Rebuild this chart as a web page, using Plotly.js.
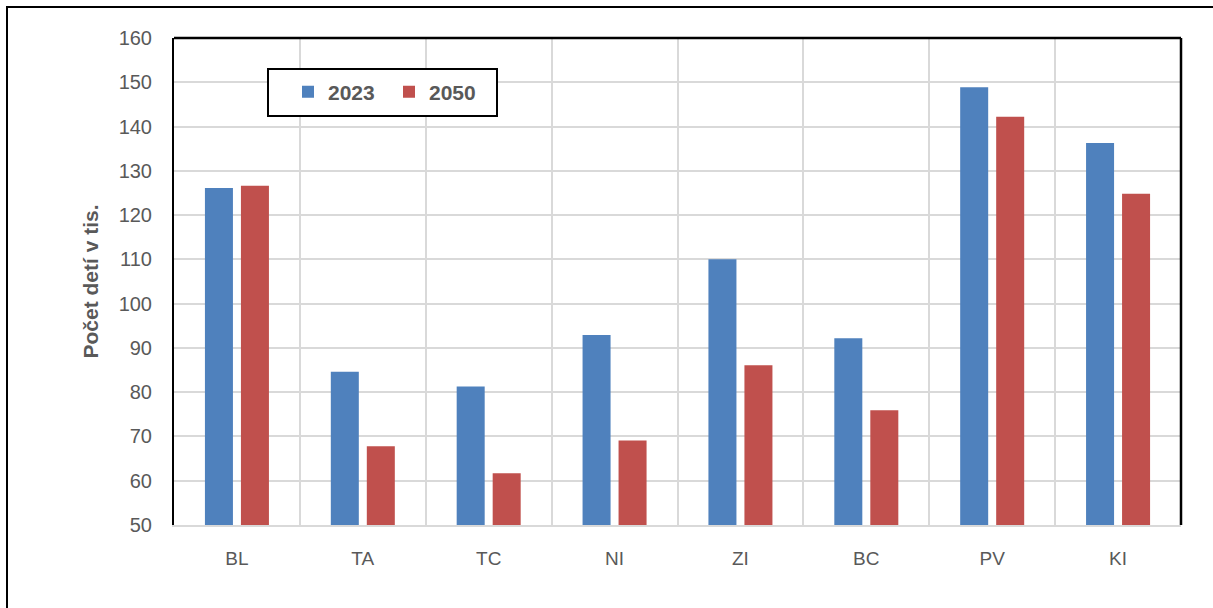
<!DOCTYPE html>
<html><head><meta charset="utf-8">
<script src="https://cdn.plot.ly/plotly-3.0.1.min.js"></script>
<style>html,body{margin:0;padding:0;background:#fff}#c{width:1213px;height:608px}</style>
</head><body><div id="c"></div>
<script>
const categories = ["BL","TA","TC","NI","ZI","BC","PV","KI"];
const values2023 = [126.1, 84.6, 81.3, 92.9, 110.0, 92.2, 148.9, 136.3];
const values2050 = [126.6, 67.8, 61.7, 69.1, 86.1, 75.9, 142.2, 124.8];
const seriesNames = ["2023","2050"];
const yTicks = [50,60,70,80,90,100,110,120,130,140,150,160];

const L=174, T=38, R=1181, B=525, W=1213, H=608;
const pw=R-L, ph=B-T;
const px=x=>(x-L)/pw, py=y=>(B-y)/ph;

const traces = [
 {type:'bar', x:categories, y:values2023, name:seriesNames[0], marker:{color:'#4F81BD'}},
 {type:'bar', x:categories, y:values2050, name:seriesNames[1], marker:{color:'#C0504D'}}
];

const FONT = '"Liberation Sans", Arial, sans-serif';
const layout = {
 width:W, height:H, margin:{l:L, r:W-R, t:T, b:H-B},
 paper_bgcolor:'#fff', plot_bgcolor:'#fff',
 font:{family:FONT, color:'#595959', size:19},
 barmode:'group', bargap:0.428, bargroupgap:0.222,
 showlegend:true,
 legend:{orientation:'h', x:px(288), y:py(92), xanchor:'left', yanchor:'middle',
   borderwidth:0, bgcolor:'rgba(0,0,0,0)',
   font:{size:21, color:'#595959', weight:'bold', family:FONT}, itemwidth:30, entrywidth:56, entrywidthmode:'pixels', tracegroupgap:0},
 xaxis:{type:'category', tickson:'boundaries', showgrid:true, gridcolor:'#d9d9d9', gridwidth:2,
   ticks:'', showline:true, linecolor:'#d9d9d9', linewidth:2, tickfont:{size:19, color:'#595959'},
   ticklabelstandoff:15, fixedrange:true},
 yaxis:{range:[50,160], tickvals:yTicks, showgrid:true, gridcolor:'#d9d9d9', gridwidth:2,
   showline:true, linecolor:'#000', linewidth:2, ticks:'', zeroline:false,
   tickfont:{size:20, color:'#595959'}, ticklabelstandoff:16,
   title:{text:'Počet detí v tis.', font:{size:21, color:'#595959', weight:'bold'}, standoff:14}},
 shapes:[
  {type:'line', xref:'paper', yref:'paper', x0:0, x1:1, y0:1, y1:1, line:{color:'#000', width:2.5}},
  {type:'line', xref:'paper', yref:'paper', x0:1, x1:1, y0:0, y1:1, line:{color:'#000', width:2.5}},
  {type:'rect', xref:'paper', yref:'paper', x0:px(268), x1:px(497), y0:py(69), y1:py(116), line:{color:'#000', width:2}, fillcolor:'#fff', layer:'above'},
  {type:'rect', xref:'paper', yref:'paper', x0:px(7), x1:px(1230), y0:py(7), y1:py(620), line:{color:'#000', width:2}, layer:'below'}
 ]
};
Plotly.newPlot('c', traces, layout, {displayModeBar:false, staticPlot:true});
</script></body></html>
